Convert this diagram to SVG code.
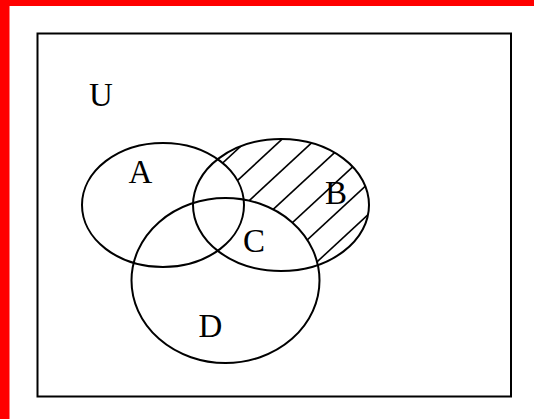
<svg xmlns="http://www.w3.org/2000/svg" width="534" height="419" viewBox="0 0 534 419">
  <style>
    .set { fill: none; stroke: #000; stroke-width: 2; }
    .hatch { stroke: #000; stroke-width: 1.6; }
    .label { font-family: "Liberation Serif", "Times New Roman", serif; font-size: 33px; fill: #000; text-anchor: middle; }
  </style>
  <defs>
    <!-- B only: inside B, outside A and D -->
    <mask id="bOnly">
      <ellipse cx="281" cy="205" rx="88" ry="66" fill="#fff"/>
      <ellipse cx="163" cy="205" rx="81" ry="62" fill="#000"/>
      <ellipse cx="225.5" cy="280.5" rx="94" ry="82.5" fill="#000"/>
    </mask>
  </defs>

  <rect x="0" y="0" width="534" height="419" fill="#fff"/>
  <!-- frame edges -->
  <rect x="0" y="0" width="534" height="6" fill="#f00"/>
  <rect x="0" y="0" width="9.5" height="419" fill="#f00"/>

  <g id="universe">
    <rect x="37.5" y="33.5" width="473.5" height="363" fill="none" stroke="#000" stroke-width="2"/>
    <text class="label" x="101" y="106">U</text>
  </g>

  <g id="hatching" mask="url(#bOnly)">
    <line class="hatch" x1="180" y1="140.5" x2="380" y2="-44.5"/>
    <line class="hatch" x1="180" y1="171.5" x2="380" y2="-13.5"/>
    <line class="hatch" x1="180" y1="202.5" x2="380" y2="17.5"/>
    <line class="hatch" x1="180" y1="233.6" x2="380" y2="48.6"/>
    <line class="hatch" x1="180" y1="264.6" x2="380" y2="79.6"/>
    <line class="hatch" x1="180" y1="295.6" x2="380" y2="110.6"/>
    <line class="hatch" x1="180" y1="326.6" x2="380" y2="141.6"/>
    <line class="hatch" x1="180" y1="357.6" x2="380" y2="172.6"/>
    <line class="hatch" x1="180" y1="388.6" x2="380" y2="203.6"/>
    <line class="hatch" x1="180" y1="419.6" x2="380" y2="234.6"/>
    <line class="hatch" x1="180" y1="450.6" x2="380" y2="265.6"/>
  </g>

  <g id="setA">
    <ellipse class="set" cx="163" cy="205" rx="81" ry="62"/>
    <text class="label" x="140.5" y="183">A</text>
  </g>
  <g id="setB">
    <ellipse class="set" cx="281" cy="205" rx="88" ry="66"/>
    <text class="label" x="336" y="204">B</text>
  </g>
  <g id="setD">
    <ellipse class="set" cx="225.5" cy="280.5" rx="94" ry="82.5"/>
    <text class="label" x="210.5" y="337">D</text>
  </g>
  <g id="regionC">
    <text class="label" x="254" y="251.5">C</text>
  </g>
</svg>
